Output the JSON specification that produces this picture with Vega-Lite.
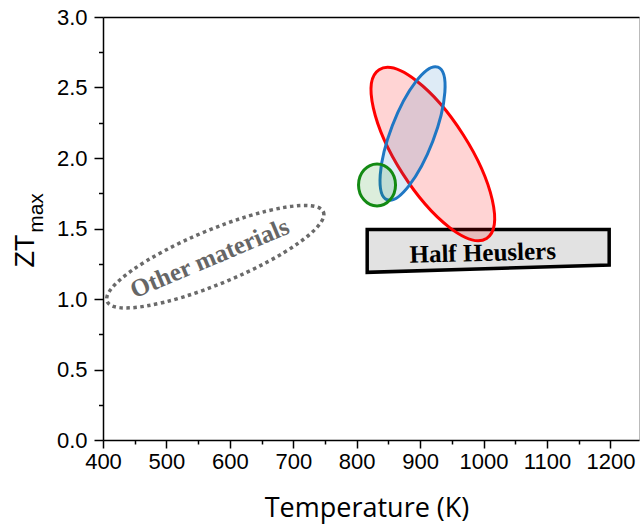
{
  "$schema": "https://vega.github.io/schema/vega-lite/v6.json",
  "autosize": "none",
  "width": 536,
  "height": 423,
  "padding": {"left": 103, "top": 17, "right": 1, "bottom": 89},
  "background": "white",
  "config": {"view": {"stroke": "#bbbbbb", "strokeWidth": 1}},
  "datasets": {
    "regions": [
      {"name": "Other materials", "T": 577, "ZT": 1.30},
      {"name": "red", "T": 920, "ZT": 2.028},
      {"name": "blue", "T": 888, "ZT": 2.174},
      {"name": "green", "T": 832, "ZT": 1.809}
    ],
    "box": [
      {"T": 816.5, "top": 1.493, "bottom": 1.189},
      {"T": 1198, "top": 1.493, "bottom": 1.241}
    ],
    "labels": [
      {"label": "Half Heuslers", "T": 999, "ZT": 1.27},
      {"label": "Other materials", "T": 568, "ZT": 1.289}
    ]
  },
  "resolve": {"axis": {"x": "independent", "y": "independent"}},
  "layer": [
    {
      "data": {"name": "box"},
      "mark": {"type": "area", "fill": "#e2e2e2", "stroke": "#000000", "strokeWidth": 3.5, "strokeJoin": "miter"},
      "encoding": {
        "x": {
          "field": "T", "type": "quantitative",
          "scale": {"domain": [400, 1245], "nice": false, "zero": false},
          "axis": {
            "title": "Temperature (K)",
            "values": [400, 450, 500, 550, 600, 650, 700, 750, 800, 850, 900, 950, 1000, 1050, 1100, 1150, 1200],
            "format": "d",
            "labelExpr": "datum.value % 100 === 0 ? datum.label : ''",
            "tickSize": {"condition": {"test": "datum.value % 100 === 0", "value": 8}, "value": 4},
            "tickColor": "#000000", "tickWidth": 1.5,
            "domainColor": "#000000", "domainWidth": 1.5,
            "labelFont": "Liberation Sans", "labelFontSize": 22, "labelColor": "#000000", "labelPadding": 3,
            "labelFlush": false, "labelOverlap": false,
            "grid": false,
            "titleFont": "Open Sans", "titleFontSize": 27, "titleFontWeight": "normal", "titleColor": "#000000",
            "titleX": 263.5, "titleY": 76, "titleBaseline": "alphabetic", "titleAlign": "center"
          }
        },
        "y": {
          "field": "top", "type": "quantitative",
          "scale": {"domain": [0, 3], "nice": false, "zero": false},
          "axis": {
            "title": "ZT",
            "values": [0, 0.25, 0.5, 0.75, 1, 1.25, 1.5, 1.75, 2, 2.25, 2.5, 2.75, 3],
            "format": ".1f",
            "labelExpr": "datum.value % 0.5 === 0 ? datum.label : ''",
            "tickSize": {"condition": {"test": "datum.value % 0.5 === 0", "value": 9}, "value": 4.5},
            "tickColor": "#000000", "tickWidth": 1.5,
            "domainColor": "#000000", "domainWidth": 1.5,
            "labelFont": "Liberation Sans", "labelFontSize": 22, "labelColor": "#000000", "labelPadding": 7,
            "labelFlush": false, "labelOverlap": false,
            "grid": false,
            "titleFont": "Liberation Sans", "titleFontSize": 27, "titleFontWeight": "normal", "titleColor": "#000000",
            "titleAngle": 270, "titleX": -70, "titleY": 233.5, "titleBaseline": "alphabetic", "titleAlign": "center"
          }
        },
        "y2": {"field": "bottom"}
      }
    },
    {
      "data": {"name": "regions"},
      "transform": [{"filter": "datum.name === 'Other materials'"}],
      "mark": {
        "type": "point", "filled": false, "size": 54756, "angle": 337.5,
        "shape": "M 1 0 C 1 0.1274 0.5523 0.2308 0 0.2308 C -0.5523 0.2308 -1 0.1274 -1 0 C -1 -0.1274 -0.5523 -0.2308 0 -0.2308 C 0.5523 -0.2308 1 -0.1274 1 0 Z",
        "stroke": "#6a6a6a", "strokeWidth": 3.5, "strokeDash": [3.5, 3.5], "fill": null, "opacity": 1
      },
      "encoding": {
        "x": {"field": "T", "type": "quantitative", "axis": null},
        "y": {"field": "ZT", "type": "quantitative", "axis": null}
      }
    },
    {
      "data": {"name": "regions"},
      "transform": [{"filter": "datum.name === 'red'"}],
      "mark": {
        "type": "point", "filled": true, "size": 40000, "angle": 57.5,
        "shape": "M 1 0 C 1 0.1988 0.5523 0.36 0 0.36 C -0.5523 0.36 -1 0.1988 -1 0 C -1 -0.1988 -0.5523 -0.36 0 -0.36 C 0.5523 -0.36 1 -0.1988 1 0 Z",
        "fill": "#ff0000", "fillOpacity": 0.17, "stroke": "#ff0000", "strokeWidth": 3, "opacity": 1
      },
      "encoding": {
        "x": {"field": "T", "type": "quantitative", "axis": null},
        "y": {"field": "ZT", "type": "quantitative", "axis": null}
      }
    },
    {
      "data": {"name": "regions"},
      "transform": [{"filter": "datum.name === 'blue'"}],
      "mark": {
        "type": "point", "filled": true, "size": 20164, "angle": 291,
        "shape": "M 1 0 C 1 0.1688 0.5523 0.3056 0 0.3056 C -0.5523 0.3056 -1 0.1688 -1 0 C -1 -0.1688 -0.5523 -0.3056 0 -0.3056 C 0.5523 -0.3056 1 -0.1688 1 0 Z",
        "fill": "#1f77c4", "fillOpacity": 0.15, "stroke": "#1f77c4", "strokeWidth": 3, "opacity": 1
      },
      "encoding": {
        "x": {"field": "T", "type": "quantitative", "axis": null},
        "y": {"field": "ZT", "type": "quantitative", "axis": null}
      }
    },
    {
      "data": {"name": "regions"},
      "transform": [{"filter": "datum.name === 'green'"}],
      "mark": {
        "type": "point", "filled": true, "size": 1764, "angle": 90,
        "shape": "M 1 0 C 1 0.4866 0.5523 0.881 0 0.881 C -0.5523 0.881 -1 0.4866 -1 0 C -1 -0.4866 -0.5523 -0.881 0 -0.881 C 0.5523 -0.881 1 -0.4866 1 0 Z",
        "fill": "#138a13", "fillOpacity": 0.15, "stroke": "#138a13", "strokeWidth": 3, "opacity": 1
      },
      "encoding": {
        "x": {"field": "T", "type": "quantitative", "axis": null},
        "y": {"field": "ZT", "type": "quantitative", "axis": null}
      }
    },
    {
      "data": {"name": "labels"},
      "transform": [{"filter": "datum.label === 'Half Heuslers'"}],
      "mark": {"type": "text", "font": "Liberation Serif", "fontSize": 25, "fontWeight": "bold", "color": "#000000", "align": "center", "baseline": "alphabetic", "angle": 358.5},
      "encoding": {
        "x": {"field": "T", "type": "quantitative", "axis": null},
        "y": {"field": "ZT", "type": "quantitative", "axis": null},
        "text": {"field": "label"}
      }
    },
    {
      "data": {"name": "labels"},
      "transform": [{"filter": "datum.label === 'Other materials'"}],
      "mark": {"type": "text", "font": "Liberation Serif", "fontSize": 25, "fontWeight": "bold", "color": "#666666", "align": "center", "baseline": "middle", "angle": 337.2},
      "encoding": {
        "x": {
          "field": "T", "type": "quantitative",
          "axis": {"orient": "top", "title": null, "labels": false, "ticks": false, "grid": false, "domainColor": "#000000", "domainWidth": 1.5}
        },
        "y": {
          "field": "ZT", "type": "quantitative",
          "axis": {
            "orient": "left", "title": "max", "labels": false, "ticks": false, "grid": false, "domain": false,
            "titleFont": "Liberation Sans", "titleFontSize": 21, "titleFontWeight": "normal", "titleColor": "#000000",
            "titleAngle": 270, "titleX": -61, "titleY": 195.5, "titleBaseline": "alphabetic", "titleAlign": "center"
          }
        },
        "text": {"field": "label"}
      }
    }
  ]
}
